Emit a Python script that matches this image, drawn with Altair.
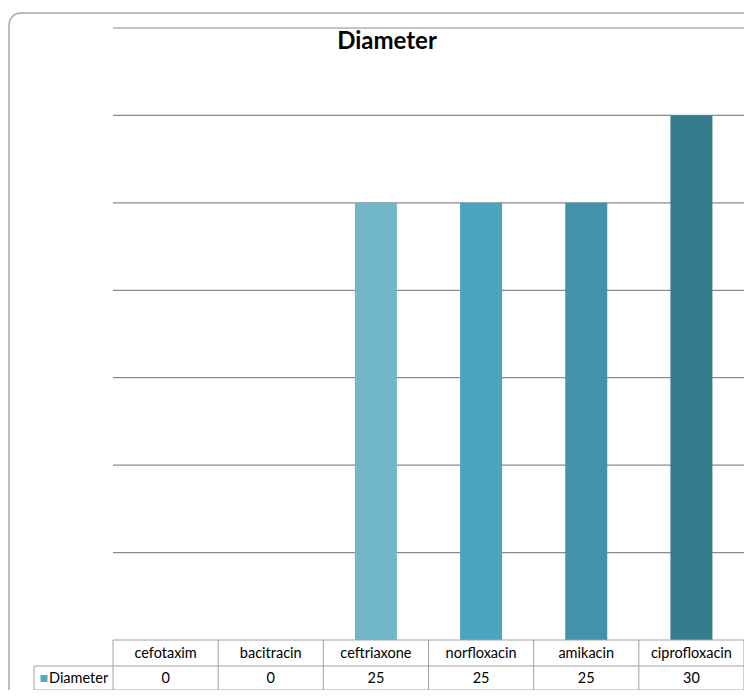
import altair as alt
import pandas as pd

categories = ["cefotaxim", "bacitracin", "ceftriaxone", "norfloxacin", "amikacin", "ciprofloxacin"]
diameter = [0, 0, 25, 25, 25, 30]
bar_colors = ["#8ec8d9", "#80c0d3", "#72b6cc", "#4aa6c0", "#4192aa", "#357c8f"]
series_name = "Diameter"
chart_title = "Diameter"
y_ticks = [5, 10, 15, 20, 25, 30, 35]

W, H = 631, 612
ROW1, ROW2 = 26, 50
LEG_X = -79
FONT = "Lato"
BORDER = "#a0a0a0"

df = pd.DataFrame({"cat": categories, "val": diameter, "color": bar_colors})
grid_df = pd.DataFrame({"v": y_ticks})
one = pd.DataFrame({"t": [series_name]})
ttl = pd.DataFrame({"t": [chart_title]})

xs = alt.Scale(domain=categories, paddingInner=0, paddingOuter=0)
ys = alt.Scale(domain=[0, 35], nice=False)

grid = alt.Chart(grid_df).mark_rule(color="#8a8a8a", strokeWidth=1.2).encode(
    y=alt.Y("v:Q", scale=ys, axis=None),
    x=alt.value(0), x2=alt.value(W)
)

bars = alt.Chart(df).mark_bar(size=42).encode(
    x=alt.X("cat:N", sort=categories, scale=xs, axis=None),
    y=alt.Y("val:Q", scale=ys, axis=None),
    color=alt.Color("color:N", scale=None),
)

frame = alt.Chart(one).mark_rect(fillOpacity=0, stroke="#a6a6a6", strokeWidth=1.5, cornerRadius=12).encode(
    x=alt.value(-104), x2=alt.value(W + 60), y=alt.value(-15), y2=alt.value(H + 100)
)

title = alt.Chart(ttl).mark_text(font=FONT, fontSize=24, fontWeight="bold", color="#000000",
                                 align="center", baseline="middle").encode(
    x=alt.value(274), y=alt.value(14), text="t:N"
)

vlines = alt.Chart(df).mark_rule(color=BORDER, strokeWidth=1).encode(
    x=alt.X("cat:N", sort=categories, scale=xs, bandPosition=0, axis=None),
    y=alt.value(H), y2=alt.value(H + ROW2)
)
vlast = alt.Chart(df.tail(1)).mark_rule(color=BORDER, strokeWidth=1).encode(
    x=alt.X("cat:N", sort=categories, scale=xs, bandPosition=1, axis=None),
    y=alt.value(H), y2=alt.value(H + ROW2)
)
vleg = alt.Chart(one).mark_rule(color=BORDER, strokeWidth=1).encode(
    x=alt.value(LEG_X), y=alt.value(H + ROW1), y2=alt.value(H + ROW2)
)
htop = alt.Chart(one).mark_rule(color=BORDER, strokeWidth=1).encode(
    x=alt.value(0), x2=alt.value(W), y=alt.value(H)
)
hmid = alt.Chart(one).mark_rule(color=BORDER, strokeWidth=1).encode(
    x=alt.value(LEG_X), x2=alt.value(W), y=alt.value(H + ROW1)
)
hbot = alt.Chart(one).mark_rule(color=BORDER, strokeWidth=1).encode(
    x=alt.value(LEG_X), x2=alt.value(W), y=alt.value(H + ROW2)
)

head_txt = alt.Chart(df).mark_text(font=FONT, fontSize=14.5, color="#000000", baseline="middle").encode(
    x=alt.X("cat:N", sort=categories, scale=xs, axis=None),
    y=alt.value(H + 13.5), text="cat:N"
)
val_txt = alt.Chart(df).mark_text(font=FONT, fontSize=14.5, color="#000000", baseline="middle").encode(
    x=alt.X("cat:N", sort=categories, scale=xs, axis=None),
    y=alt.value(H + 38.5), text="val:Q"
)
swatch = alt.Chart(one).mark_square(size=49, color="#4bacc6", opacity=1).encode(
    x=alt.value(LEG_X + 10), y=alt.value(H + 38.5)
)
leg_txt = alt.Chart(one).mark_text(font=FONT, fontSize=14.5, color="#000000", align="left",
                                   baseline="middle").encode(
    x=alt.value(LEG_X + 15), y=alt.value(H + 38.5), text="t:N"
)

chart = alt.layer(
    frame, grid, bars, title, vlines, vlast, vleg, htop, hmid, hbot, head_txt, val_txt, swatch, leg_txt
).properties(
    width=W, height=H,
    autosize=alt.AutoSizeParams(type="none"),
    padding={"left": 105, "top": 20, "right": 0, "bottom": 50},
).configure(background="#ffffff").configure_view(strokeWidth=0, stroke="transparent")

chart.save("out.html", embed_options={"renderer": "svg", "actions": False})
